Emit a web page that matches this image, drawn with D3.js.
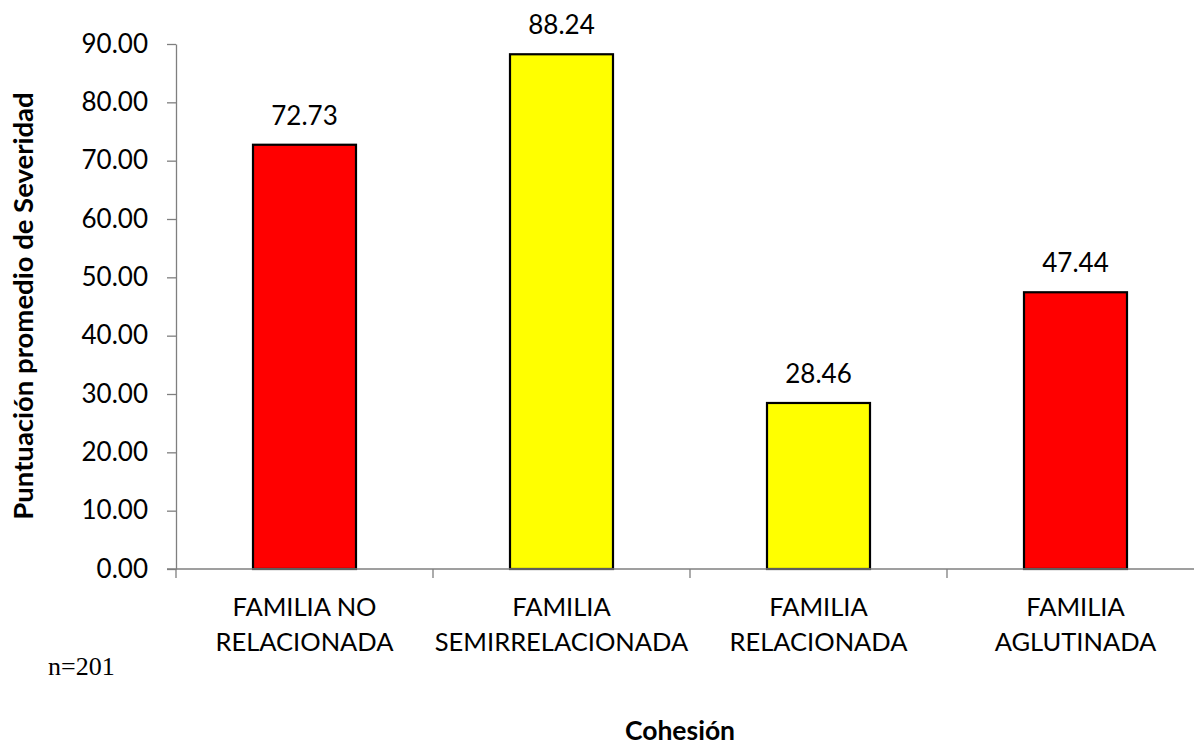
<!DOCTYPE html>
<html>
<head>
<meta charset="utf-8">
<script src="https://cdn.jsdelivr.net/npm/d3@7"></script>
<style>
  html, body { margin: 0; padding: 0; background: #fff; }
  svg { display: block; }
  text { font-family: Lato, "Open Sans", sans-serif; fill: #000; }
</style>
</head>
<body>
<svg id="chart" width="1194" height="747"></svg>
<script>
// Puntuación promedio de severidad según cohesión familiar
const categories = [
  ["FAMILIA NO", "RELACIONADA"],
  ["FAMILIA", "SEMIRRELACIONADA"],
  ["FAMILIA", "RELACIONADA"],
  ["FAMILIA", "AGLUTINADA"]
];
const values = [72.73, 88.24, 28.46, 47.44];
const colors = ["#ff0000", "#ffff00", "#ffff00", "#ff0000"];
const yTicks = [0, 10, 20, 30, 40, 50, 60, 70, 80, 90];

const svg = d3.select("#chart");
const plotLeft = 176, plotRight = 1204, plotTop = 44, plotBottom = 569;

const x = d3.scaleBand().domain(d3.range(categories.length)).range([plotLeft, plotRight]).paddingInner(0).paddingOuter(0);
const y = d3.scaleLinear().domain([0, 90]).range([plotBottom, plotTop]);

// Y axis
const yAxis = d3.axisLeft(y).tickValues(yTicks).tickFormat(d3.format(".2f")).tickSize(9).tickSizeOuter(0).tickPadding(19);
const gy = svg.append("g").attr("transform", `translate(${plotLeft},0)`).call(yAxis);
gy.selectAll("path.domain").attr("stroke", "#7f7f7f").attr("stroke-width", 1.3);
gy.selectAll(".tick line").attr("stroke", "#7f7f7f").attr("stroke-width", 1.3);
gy.selectAll(".tick text").style("font-size", "26px").style("font-family", "Lato, sans-serif").attr("fill", "#000");

// Bars
const bw = 103;
svg.append("g").selectAll("rect").data(values).join("rect")
  .attr("x", (d, i) => x(i) + x.bandwidth() / 2 - bw / 2)
  .attr("y", d => y(d))
  .attr("width", bw)
  .attr("height", d => y(0) - y(d))
  .attr("fill", (d, i) => colors[i])
  .attr("stroke", "#000")
  .attr("stroke-width", 2.2);

// X axis baseline with category ticks
const gx = svg.append("g");
gx.append("line").attr("x1", plotLeft - 9).attr("x2", plotRight).attr("y1", plotBottom).attr("y2", plotBottom)
  .attr("stroke", "#7f7f7f").attr("stroke-width", 1.3);
const boundaries = d3.range(categories.length + 1).map(i => i < categories.length ? x(i) : plotRight);
gx.selectAll("line.tk").data(boundaries).join("line").attr("class", "tk")
  .attr("x1", d => d).attr("x2", d => d).attr("y1", plotBottom).attr("y2", plotBottom + 9)
  .attr("stroke", "#7f7f7f").attr("stroke-width", 1.3);

// Category labels
categories.forEach((lines, i) => {
  const cx = x(i) + x.bandwidth() / 2;
  const t = svg.append("text")
    .attr("x", cx)
    .attr("y", 616)
    .attr("text-anchor", "middle")
    .style("font-size", "25.5px");
  lines.forEach((ln, j) => {
    t.append("tspan").attr("x", cx).attr("dy", j === 0 ? 0 : 35).text(ln);
  });
});

// Value labels
svg.append("g").selectAll("text").data(values).join("text")
  .attr("x", (d, i) => x(i) + x.bandwidth() / 2)
  .attr("y", d => y(d) - 20)
  .attr("text-anchor", "middle")
  .style("font-size", "26px")
  .text(d => d.toFixed(2));

// Axis titles
svg.append("text")
  .attr("transform", `translate(33,306) rotate(-90)`)
  .attr("text-anchor", "middle")
  .style("font-size", "27.5px").style("font-weight", "bold")
  .text("Puntuación promedio de Severidad");

svg.append("text")
  .attr("x", 680).attr("y", 740)
  .attr("text-anchor", "middle")
  .style("font-size", "26.5px").style("font-weight", "bold")
  .text("Cohesión");

svg.append("text")
  .attr("x", 48).attr("y", 675)
  .style("font-family", "'Liberation Serif', 'Times New Roman', serif")
  .style("font-size", "26px")
  .text("n=201");
</script>
</body>
</html>
